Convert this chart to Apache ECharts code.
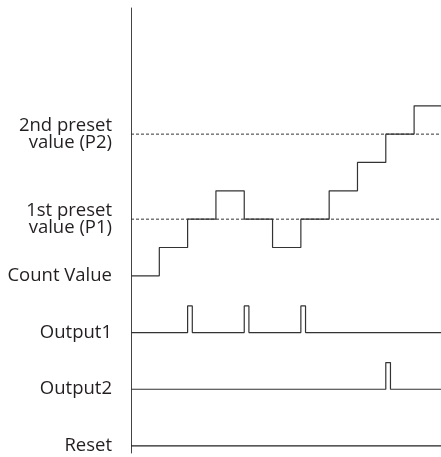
<!DOCTYPE html>
<html>
<head>
<meta charset="utf-8">
<script src="https://cdn.jsdelivr.net/npm/echarts@6/dist/echarts.min.js"></script>
<style>
html,body{margin:0;padding:0;background:#fff;}
#chart{width:441px;height:457px;}
</style>
</head>
<body>
<div id="chart"></div>
<script>
// ---- data ----
const countTimes  = [0, 1, 2, 3, 4, 5, 6, 7, 8, 9, 10, 11];
const countValues = [0, 1, 2, 3, 2, 1, 2, 3, 4, 5, 6, 6];
const preset1 = 2;
const preset2 = 5;
const output1Pulses = [2, 4, 6];
const output2Pulses = [9];
const pulseWidth = 0.165;
const timeEnd = 10.95;
const laneLabels = ['2nd preset\nvalue (P2)', '1st preset\nvalue (P1)', 'Count Value', 'Output1', 'Output2', 'Reset'];

// lane layout (in step units)
const laneCount = 0, laneOut1 = -2, laneOut2 = -4, laneReset = -6;
const pulseHeight = 0.94;
const labelValues = [preset2, preset1, laneCount, laneOut1, laneOut2, laneReset];

function pulseTrain(times, lane) {
  const pts = [[0, lane]];
  times.forEach(t => {
    pts.push([t, lane], [t, lane + pulseHeight], [t + pulseWidth, lane + pulseHeight], [t + pulseWidth, lane]);
  });
  pts.push([timeEnd, lane]);
  return pts;
}

const lineCol = '#333';
const chart = echarts.init(document.getElementById('chart'), null, {renderer: 'canvas'});
chart.setOption({
  animation: false,
  backgroundColor: '#fff',
  grid: {left: 131, right: 0, top: 8, bottom: 4},
  xAxis: {
    type: 'value', min: 0, max: timeEnd,
    show: false
  },
  yAxis: {
    type: 'value', min: -6.25, max: 9.45,
    axisLine: {show: true, lineStyle: {color: '#444', width: 1}},
    axisTick: {show: false},
    splitLine: {show: false},
    axisLabel: {
      customValues: labelValues,
      formatter: v => laneLabels[labelValues.indexOf(v)],
      margin: 19,
      fontFamily: 'Open Sans',
      fontSize: 18.5,
      lineHeight: 17,
      color: '#231f20',
      align: 'right'
    }
  },
  series: [
    {
      type: 'line', step: 'end', symbol: 'none',
      data: countTimes.map((t, i) => [t, laneCount + countValues[i]]),
      lineStyle: {color: lineCol, width: 1.2}
    },
    {
      type: 'line', symbol: 'none',
      data: [[0, preset1], [timeEnd, preset1]],
      lineStyle: {color: lineCol, width: 1, type: [3, 2]}
    },
    {
      type: 'line', symbol: 'none',
      data: [[0, preset2], [timeEnd, preset2]],
      lineStyle: {color: lineCol, width: 1, type: [3, 2]}
    },
    {
      type: 'line', symbol: 'none',
      data: pulseTrain(output1Pulses, laneOut1),
      lineStyle: {color: lineCol, width: 1.2}
    },
    {
      type: 'line', symbol: 'none',
      data: pulseTrain(output2Pulses, laneOut2),
      lineStyle: {color: lineCol, width: 1.2}
    },
    {
      type: 'line', symbol: 'none',
      data: pulseTrain([], laneReset),
      lineStyle: {color: '#222', width: 1.2}
    }
  ]
});
</script>
</body>
</html>
